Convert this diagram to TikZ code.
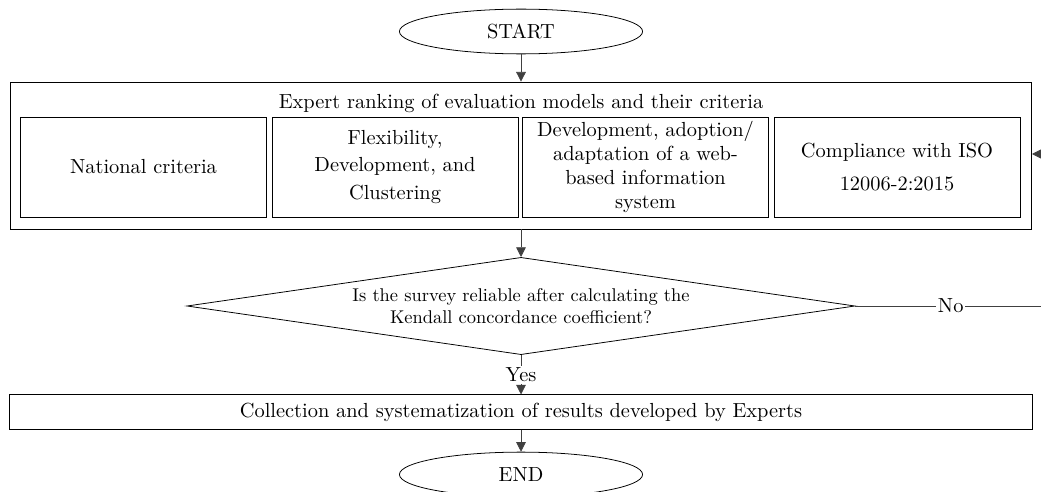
\documentclass[tikz,border=0pt]{standalone}
\usepackage{amsmath}
\usetikzlibrary{shapes.geometric,arrows.meta}

\tikzset{
    box/.style={draw, rectangle, align=center, inner sep=2pt},
    crit/.style={box, minimum width=4.45cm, minimum height=1.81cm, inner sep=0pt},
    term/.style={draw, ellipse, minimum width=4.4cm, minimum height=0.81cm},
    cond/.style={draw, diamond, aspect=6.9, inner sep=0pt, align=center,
        minimum width=12.09cm, minimum height=1.76cm},
    link/.style={draw=black!75, -{Triangle[width=5pt,length=5pt]}},
}

\begin{document}
\begin{tikzpicture}[x=0.0181cm, y=-0.0181cm, font=\fontsize{10.5}{14}\selectfont]
    \useasboundingbox (0,0) rectangle (1041,492);
    \node[term] (start) at (521,31.5) {START};
    \node[box, minimum width=18.48cm, minimum height=2.66cm] (rank) at (521,155.5) {};
    \node (head) at (521,103) {Expert ranking of evaluation models and their criteria};
    \node[crit] (nat) at (143.5,167) {National criteria};
    \node[crit] (flex) at (395,167) {Flexibility,\\ Development, and\\ Clustering};
    \node[crit, font=\fontsize{10.5}{12.4}\selectfont] (web) at (645.5,167)
        {Development, adoption/\\ adaptation of a web-\\ based information\\ system};
    \node[crit, font=\fontsize{10.5}{17}\selectfont] (iso) at (897,167)
        {Compliance with ISO\\ 12006-2:2015};
    \node[cond, font=\fontsize{9.5}{11.5}\selectfont] (rel) at (521,306)
        {Is the survey reliable after calculating the\\ Kendall concordance coefficient?};
    \node[box, minimum width=18.5cm, minimum height=0.62cm] (coll) at (521,412)
        {Collection and systematization of results developed by Experts};
    \node[term] (end) at (521,474.5) {END};
    \coordinate (c1) at (1046,306);
    \coordinate (c2) at (1046,154);

    \draw[link] (start) -- (rank);
    \draw[link] (rank) -- (rel);
    \draw[link] (rel) -- node[fill=white, inner sep=1pt]{Yes} (coll);
    \draw[link] (coll) -- (end);
    \draw[link] (rel.east) -- node[pos=0.5, fill=white, inner sep=1pt]{No} (c1) -- (c2) -- (rank.east |- c2);
\end{tikzpicture}
\end{document}
